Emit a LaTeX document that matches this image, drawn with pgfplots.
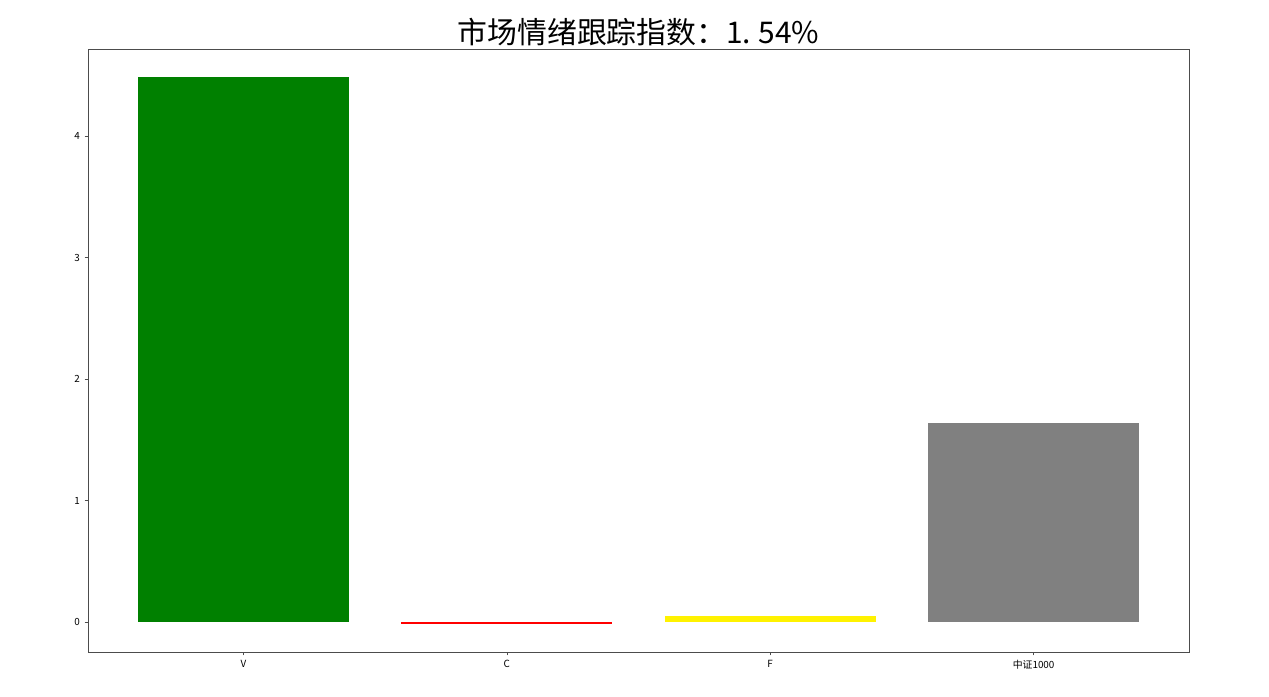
\documentclass[border=0pt]{standalone}
\usepackage{fontspec}
\setmainfont{Noto Sans CJK SC}
\usepackage{pgfplots}
\pgfplotsset{compat=1.18}
\begin{document}
\begin{tikzpicture}
\path (0,0) rectangle (951.75pt,522pt);
\begin{axis}[
    at={(66pt,33pt)}, anchor=south west,
    width=825.75pt, height=452.25pt, scale only axis,
    xmin=-0.59, xmax=3.59,
    ymin=-0.247, ymax=4.716,
    xtick={0,1,2,3},
    xticklabels={V,C,F,中证1000},
    ytick={0,1,2,3,4},
    tick align=outside, tick pos=left,
    major tick length=2.6pt,
    ticklabel style={font=\fontsize{7.4}{8}\selectfont, text=black},
    /pgf/number format/assume math mode=true,
    axis line style={black!70},
    every tick/.style={black!70},
    ybar, bar width=0.8, bar shift=0pt,
    title={市场情绪跟踪指数：1.\hspace{0.25em}54\%},
    title style={font=\fontsize{22.4}{25}\selectfont, at={(0.5,1)}, yshift=-7pt},
]
\addplot[fill={rgb,255:red,0;green,128;blue,0}, draw=none] coordinates {(0,4.486)};
\addplot[fill=red, draw=none] coordinates {(1,-0.018)};
\addplot[fill=yellow, draw=none] coordinates {(2,0.05)};
\addplot[fill={rgb,255:red,128;green,128;blue,128}, draw=none] coordinates {(3,1.638)};
\end{axis}
\end{tikzpicture}
\end{document}
